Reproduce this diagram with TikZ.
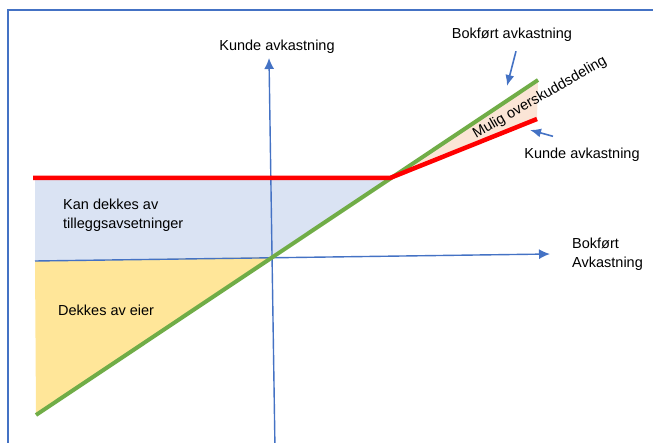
\documentclass[tikz,border=0pt]{standalone}
\usepackage{fontspec}
\setmainfont{Liberation Sans}
\usetikzlibrary{arrows.meta,positioning,calc}
\definecolor{axisblue}{HTML}{4472C4}
\definecolor{lgreen}{HTML}{70AD47}
\definecolor{lred}{HTML}{FF0000}
\definecolor{fillblue}{HTML}{DAE3F3}
\definecolor{fillyellow}{HTML}{FFE699}
\definecolor{fillpeach}{HTML}{FBE5D6}
\tikzset{
axis/.style = {draw=axisblue, line width=1.4pt, -{Latex[length=11pt,width=10pt]}},
pointer/.style = {draw=axisblue, line width=1.6pt, -{Latex[length=11pt,width=9pt]}},
bokfort/.style = {draw=lgreen, line width=4pt},
kunde/.style = {draw=lred, line width=4.5pt},
lbl/.style = {font=\fontsize{14.5}{19}\selectfont, inner sep=0pt, align=left}
}

\begin{document}
\begin{tikzpicture}[x=1pt, y=-1pt]
   \clip (0,0) rectangle (653,443);
   % frame
   \draw[axisblue, line width=2pt] (8,460) -- (8,10) -- (670,10);
   % points
   \coordinate (origo) at (272,257);
   \coordinate (xleft) at (35,261);
   \coordinate (xright) at (550,254);
   \coordinate (ybottom) at (275,450);
   \coordinate (ytop) at (269,58);
   \coordinate (gstart) at (36,415);
   \coordinate (gend) at (538,80);
   \coordinate (rstart) at (33,178);
   \coordinate (knee) at (390,178);
   \coordinate (rend) at (537,119);
   % areas
   \fill[fillblue] (35,178) -- (knee) -- (origo) -- (xleft) -- cycle;
   \fill[fillyellow] (xleft) -- (origo) -- (gstart) -- cycle;
   \fill[fillpeach] (knee) -- (gend) -- (rend) -- cycle;
   % axes
   \draw[axis] (xleft) -- (xright);
   \draw[axis] (ybottom) -- (ytop);
   % curves
   \draw[bokfort] (gstart) -- (gend);
   \draw[kunde] (rstart) -- (knee) -- (rend);
   % labels
   \node[lbl, anchor=base] (yaxis) at (277,51) {Kunde avkastning};
   \node[lbl, anchor=west] (xaxis) at (572,254) {Bokført\\Avkastning};
   \node[lbl, anchor=base] (boklbl) at (512,39) {Bokført avkastning};
   \node[lbl, anchor=base] (kundelbl) at (582,159) {Kunde avkastning};
   \node[lbl, anchor=base west, rotate=30] (mulig) at (476,139) {Mulig overskuddsdeling};
   \node[lbl, anchor=west] (tillegg) at (63,215) {Kan dekkes av\\tilleggsavsetninger};
   \node[lbl, anchor=base west] (eier) at (58,316) {Dekkes av eier};
   % pointers
   \coordinate (bokpt) at (507,86);
   \coordinate (kundept) at (530,130);
   \draw[pointer] (boklbl.south) ++(4,9) -- (bokpt);
   \draw[pointer] (kundelbl.north) ++(-29,-12) -- (kundept);
\end{tikzpicture}
\end{document}
